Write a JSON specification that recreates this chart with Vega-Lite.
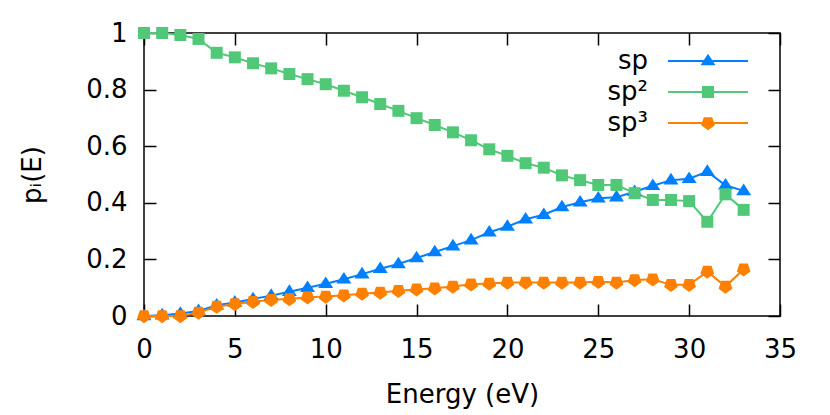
{
  "$schema": "https://vega.github.io/schema/vega-lite/v6.json",
  "width": 636,
  "height": 283,
  "autosize": {"type": "none"},
  "padding": {"left": 144, "top": 33, "right": 50, "bottom": 99},
  "background": "white",
  "config": {
    "font": "DejaVu Sans",
    "view": {"stroke": "black", "strokeWidth": 1.5},
    "axis": {
      "grid": false,
      "domain": false,
      "labelFlush": false,
      "labelFontSize": 26,
      "titleFontSize": 26,
      "titleFontWeight": "normal",
      "labelColor": "black",
      "titleColor": "black",
      "tickColor": "black",
      "tickWidth": 1.5,
      "tickSize": 12,
      "offset": -12,
      "labelFont": "DejaVu Sans",
      "titleFont": "DejaVu Sans"
    }
  },
  "data": {
    "values": [
      {"E": 0, "series": "sp", "p": 0.0},
      {"E": 1, "series": "sp", "p": 0.003},
      {"E": 2, "series": "sp", "p": 0.009},
      {"E": 3, "series": "sp", "p": 0.018},
      {"E": 4, "series": "sp", "p": 0.038},
      {"E": 5, "series": "sp", "p": 0.048},
      {"E": 6, "series": "sp", "p": 0.06},
      {"E": 7, "series": "sp", "p": 0.072},
      {"E": 8, "series": "sp", "p": 0.086},
      {"E": 9, "series": "sp", "p": 0.1},
      {"E": 10, "series": "sp", "p": 0.114},
      {"E": 11, "series": "sp", "p": 0.13},
      {"E": 12, "series": "sp", "p": 0.148},
      {"E": 13, "series": "sp", "p": 0.167},
      {"E": 14, "series": "sp", "p": 0.184},
      {"E": 15, "series": "sp", "p": 0.205},
      {"E": 16, "series": "sp", "p": 0.226},
      {"E": 17, "series": "sp", "p": 0.247},
      {"E": 18, "series": "sp", "p": 0.268},
      {"E": 19, "series": "sp", "p": 0.296},
      {"E": 20, "series": "sp", "p": 0.316},
      {"E": 21, "series": "sp", "p": 0.342},
      {"E": 22, "series": "sp", "p": 0.358},
      {"E": 23, "series": "sp", "p": 0.385},
      {"E": 24, "series": "sp", "p": 0.402},
      {"E": 25, "series": "sp", "p": 0.416},
      {"E": 26, "series": "sp", "p": 0.42},
      {"E": 27, "series": "sp", "p": 0.439},
      {"E": 28, "series": "sp", "p": 0.46},
      {"E": 29, "series": "sp", "p": 0.48},
      {"E": 30, "series": "sp", "p": 0.485},
      {"E": 31, "series": "sp", "p": 0.51},
      {"E": 32, "series": "sp", "p": 0.462},
      {"E": 33, "series": "sp", "p": 0.442},
      {"E": 0, "series": "sp²", "p": 1.0},
      {"E": 1, "series": "sp²", "p": 1.0},
      {"E": 2, "series": "sp²", "p": 0.993},
      {"E": 3, "series": "sp²", "p": 0.979},
      {"E": 4, "series": "sp²", "p": 0.93},
      {"E": 5, "series": "sp²", "p": 0.914},
      {"E": 6, "series": "sp²", "p": 0.893},
      {"E": 7, "series": "sp²", "p": 0.875},
      {"E": 8, "series": "sp²", "p": 0.855},
      {"E": 9, "series": "sp²", "p": 0.837},
      {"E": 10, "series": "sp²", "p": 0.819},
      {"E": 11, "series": "sp²", "p": 0.796},
      {"E": 12, "series": "sp²", "p": 0.773},
      {"E": 13, "series": "sp²", "p": 0.749},
      {"E": 14, "series": "sp²", "p": 0.725},
      {"E": 15, "series": "sp²", "p": 0.699},
      {"E": 16, "series": "sp²", "p": 0.675},
      {"E": 17, "series": "sp²", "p": 0.649},
      {"E": 18, "series": "sp²", "p": 0.621},
      {"E": 19, "series": "sp²", "p": 0.589},
      {"E": 20, "series": "sp²", "p": 0.566},
      {"E": 21, "series": "sp²", "p": 0.54},
      {"E": 22, "series": "sp²", "p": 0.524},
      {"E": 23, "series": "sp²", "p": 0.497},
      {"E": 24, "series": "sp²", "p": 0.48},
      {"E": 25, "series": "sp²", "p": 0.463},
      {"E": 26, "series": "sp²", "p": 0.463},
      {"E": 27, "series": "sp²", "p": 0.434},
      {"E": 28, "series": "sp²", "p": 0.41},
      {"E": 29, "series": "sp²", "p": 0.41},
      {"E": 30, "series": "sp²", "p": 0.406},
      {"E": 31, "series": "sp²", "p": 0.333},
      {"E": 32, "series": "sp²", "p": 0.43},
      {"E": 33, "series": "sp²", "p": 0.375},
      {"E": 0, "series": "sp³", "p": 0.0},
      {"E": 1, "series": "sp³", "p": 0.0},
      {"E": 2, "series": "sp³", "p": 0.0},
      {"E": 3, "series": "sp³", "p": 0.012},
      {"E": 4, "series": "sp³", "p": 0.033},
      {"E": 5, "series": "sp³", "p": 0.042},
      {"E": 6, "series": "sp³", "p": 0.05},
      {"E": 7, "series": "sp³", "p": 0.057},
      {"E": 8, "series": "sp³", "p": 0.06},
      {"E": 9, "series": "sp³", "p": 0.066},
      {"E": 10, "series": "sp³", "p": 0.069},
      {"E": 11, "series": "sp³", "p": 0.073},
      {"E": 12, "series": "sp³", "p": 0.079},
      {"E": 13, "series": "sp³", "p": 0.083},
      {"E": 14, "series": "sp³", "p": 0.089},
      {"E": 15, "series": "sp³", "p": 0.094},
      {"E": 16, "series": "sp³", "p": 0.098},
      {"E": 17, "series": "sp³", "p": 0.104},
      {"E": 18, "series": "sp³", "p": 0.112},
      {"E": 19, "series": "sp³", "p": 0.115},
      {"E": 20, "series": "sp³", "p": 0.118},
      {"E": 21, "series": "sp³", "p": 0.118},
      {"E": 22, "series": "sp³", "p": 0.118},
      {"E": 23, "series": "sp³", "p": 0.118},
      {"E": 24, "series": "sp³", "p": 0.118},
      {"E": 25, "series": "sp³", "p": 0.121},
      {"E": 26, "series": "sp³", "p": 0.118},
      {"E": 27, "series": "sp³", "p": 0.127},
      {"E": 28, "series": "sp³", "p": 0.13},
      {"E": 29, "series": "sp³", "p": 0.11},
      {"E": 30, "series": "sp³", "p": 0.11},
      {"E": 31, "series": "sp³", "p": 0.157},
      {"E": 32, "series": "sp³", "p": 0.104},
      {"E": 33, "series": "sp³", "p": 0.165}
    ]
  },
  "layer": [
    {
      "mark": {"type": "line", "strokeWidth": 2},
      "encoding": {
        "x": {
          "field": "E", "type": "quantitative",
          "scale": {"domain": [0, 35]},
          "axis": {"orient": "bottom", "values": [0, 5, 10, 15, 20, 25, 30, 35], "title": "Energy (eV)", "labelPadding": 20, "titlePadding": 19}
        },
        "y": {
          "field": "p", "type": "quantitative",
          "scale": {"domain": [0, 1]},
          "axis": {"orient": "left", "values": [0, 0.2, 0.4, 0.6, 0.8, 1], "format": "~g", "title": "pᵢ(E)", "labelPadding": 17, "titlePadding": 40}
        },
        "color": {
          "field": "series", "type": "nominal",
          "scale": {"domain": ["sp", "sp²", "sp³"], "range": ["#0080ff", "#50c878", "#ff8000"]},
          "legend": {
            "orient": "none", "legendX": 551, "legendY": 15, "title": null,
            "labelFontSize": 26, "labelAlign": "right", "labelOffset": -73,
            "symbolSize": 400, "rowPadding": 5, "labelColor": "black", "labelFont": "DejaVu Sans",
            "encode": {"symbols": {"update": {
              "shape": {"signal": "datum.value === 'sp' ? 'M-4,-0.1L4,-0.1L4,0.1L-4,0.1Z M-0.75,0.43L0,-0.73L0.75,0.43Z' : (datum.value === 'sp²' ? 'M-4,-0.1L4,-0.1L4,0.1L-4,0.1Z M-0.6,-0.6L0.6,-0.6L0.6,0.6L-0.6,0.6Z' : 'M-4,-0.1L4,-0.1L4,0.1L-4,0.1Z M0,0.72L-0.685,0.222L-0.423,-0.582L0.423,-0.582L0.685,0.222Z')"},
              "fill": {"signal": "datum.value === 'sp' ? '#0080ff' : (datum.value === 'sp²' ? '#50c878' : '#ff8000')"},
              "strokeWidth": {"value": 0},
              "opacity": {"value": 1}
            }}}
          }
        }
      }
    },
    {
      "mark": {"type": "point", "filled": true, "opacity": 1, "size": 400, "strokeWidth": 0},
      "encoding": {
        "x": {
          "field": "E", "type": "quantitative",
          "axis": {"orient": "top", "values": [0, 5, 10, 15, 20, 25, 30, 35], "labels": false, "title": null}
        },
        "y": {
          "field": "p", "type": "quantitative",
          "axis": {"orient": "right", "values": [0, 0.2, 0.4, 0.6, 0.8, 1], "labels": false, "title": null}
        },
        "fill": {
          "field": "series", "type": "nominal",
          "scale": {"domain": ["sp³", "sp²", "sp"], "range": ["#ff8000", "#50c878", "#0080ff"]},
          "legend": null
        },
        "shape": {
          "field": "series", "type": "nominal",
          "scale": {"domain": ["sp³", "sp²", "sp"], "range": ["M0,0.72L-0.685,0.222L-0.423,-0.582L0.423,-0.582L0.685,0.222Z", "M-0.6,-0.6L0.6,-0.6L0.6,0.6L-0.6,0.6Z", "M-0.75,0.43L0,-0.73L0.75,0.43Z"]},
          "legend": null
        }
      }
    }
  ],
  "resolve": {"axis": {"x": "independent", "y": "independent"}}
}
